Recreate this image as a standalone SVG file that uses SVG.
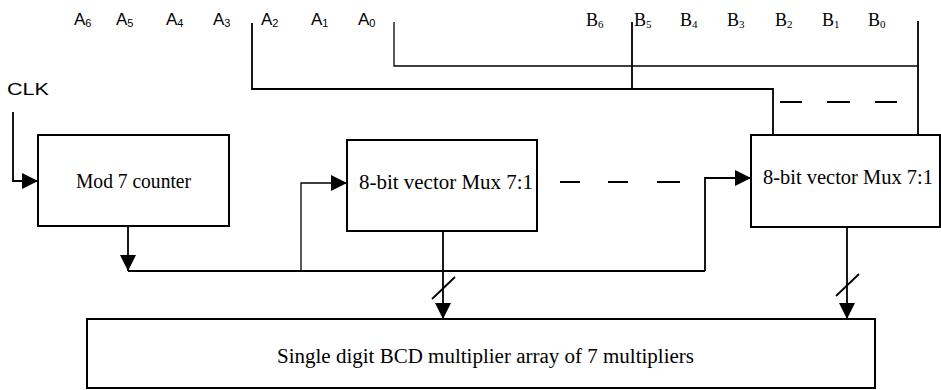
<svg xmlns="http://www.w3.org/2000/svg" width="941" height="390" viewBox="0 0 941 390">
<style>
.box{fill:#fff;stroke:#000;stroke-width:2}
.w{fill:none;stroke:#000;stroke-width:1.8}
.thin{fill:none;stroke:#000;stroke-width:1.3}
.dash{fill:none;stroke:#000;stroke-width:1.8}
.lbl{font-family:"Liberation Serif","Times New Roman",serif;font-size:20px;fill:#000}
.sa{font-family:"Liberation Sans",Arial,sans-serif;font-size:17px;fill:#000}
.sb{font-family:"Liberation Serif","Times New Roman",serif;font-size:18px;fill:#000}
.sub{font-size:11px}
</style>
<defs>
<marker id="ah" markerUnits="userSpaceOnUse" markerWidth="17" markerHeight="16" refX="16" refY="8" orient="auto" viewBox="0 0 17 16">
<path d="M0,0 L16,8 L0,16 z" fill="#000"/>
</marker>
</defs>
<rect width="941" height="390" fill="#fff"/>

<g id="labels-a">
<text class="sa" x="74" y="25">A<tspan class="sub" dy="2">6</tspan></text>
<text class="sa" x="116" y="25">A<tspan class="sub" dy="2">5</tspan></text>
<text class="sa" x="166" y="25">A<tspan class="sub" dy="2">4</tspan></text>
<text class="sa" x="213" y="25">A<tspan class="sub" dy="2">3</tspan></text>
<text class="sa" x="261" y="25">A<tspan class="sub" dy="2">2</tspan></text>
<text class="sa" x="311" y="25">A<tspan class="sub" dy="2">1</tspan></text>
<text class="sa" x="358" y="25">A<tspan class="sub" dy="2">0</tspan></text>
</g>
<g id="labels-b">
<text class="sb" x="586" y="26">B<tspan class="sub" dy="2">6</tspan></text>
<text class="sb" x="634" y="26">B<tspan class="sub" dy="2">5</tspan></text>
<text class="sb" x="680" y="26">B<tspan class="sub" dy="2">4</tspan></text>
<text class="sb" x="727" y="26">B<tspan class="sub" dy="2">3</tspan></text>
<text class="sb" x="775" y="26">B<tspan class="sub" dy="2">2</tspan></text>
<text class="sb" x="822" y="26">B<tspan class="sub" dy="2">1</tspan></text>
<text class="sb" x="868" y="26">B<tspan class="sub" dy="2">0</tspan></text>
</g>
<g id="clk">
<text class="sa" x="7" y="95" textLength="42" lengthAdjust="spacingAndGlyphs">CLK</text>
</g>

<g id="connectors">
<polyline class="w" points="252,23 252,89 773,89 773,135"/>
<line class="w" x1="632" y1="22" x2="632" y2="89"/>
<polyline class="thin" points="394,22 394,66 918,66"/>
<line class="w" x1="918" y1="21" x2="918" y2="135"/>
<path class="dash" d="M780,102 H802 M827,102 H850 M875,102 H897"/>
<polyline class="w" points="13,112 13,181 38,181" marker-end="url(#ah)"/>
<line class="w" x1="128" y1="226" x2="128" y2="271" marker-end="url(#ah)"/>
<line class="w" x1="128" y1="271" x2="705" y2="271"/>
<polyline class="thin" points="301,271 301,183 347,183" marker-end="url(#ah)"/>
<polyline class="w" points="705,271 705,178 751,178" marker-end="url(#ah)"/>
<path class="dash" d="M560,182 H580 M608,182 H628 M657,182 H680"/>
<line class="w" x1="443" y1="231" x2="443" y2="319" marker-end="url(#ah)"/>
<line class="w" x1="432" y1="299" x2="455" y2="277"/>
<line class="w" x1="847" y1="227" x2="847" y2="319" marker-end="url(#ah)"/>
<line class="w" x1="836" y1="296" x2="859" y2="274"/>
</g>

<g id="counter">
<rect class="box" x="38" y="135" width="191" height="91"/>
<text class="lbl" x="76" y="188" textLength="115" lengthAdjust="spacingAndGlyphs">Mod 7 counter</text>
</g>
<g id="mux1">
<rect class="box" x="347" y="140" width="190" height="91"/>
<text class="lbl" x="359" y="189" textLength="174" lengthAdjust="spacingAndGlyphs">8-bit vector Mux 7:1</text>
</g>
<g id="mux2">
<rect class="box" x="751" y="135" width="189" height="92"/>
<text class="lbl" x="763" y="184" textLength="170" lengthAdjust="spacingAndGlyphs">8-bit vector Mux 7:1</text>
</g>
<g id="multiplier">
<rect class="box" x="87" y="319" width="788" height="69"/>
<text class="lbl" x="277" y="363" textLength="417" lengthAdjust="spacingAndGlyphs">Single digit BCD multiplier array of 7 multipliers</text>
</g>
</svg>
